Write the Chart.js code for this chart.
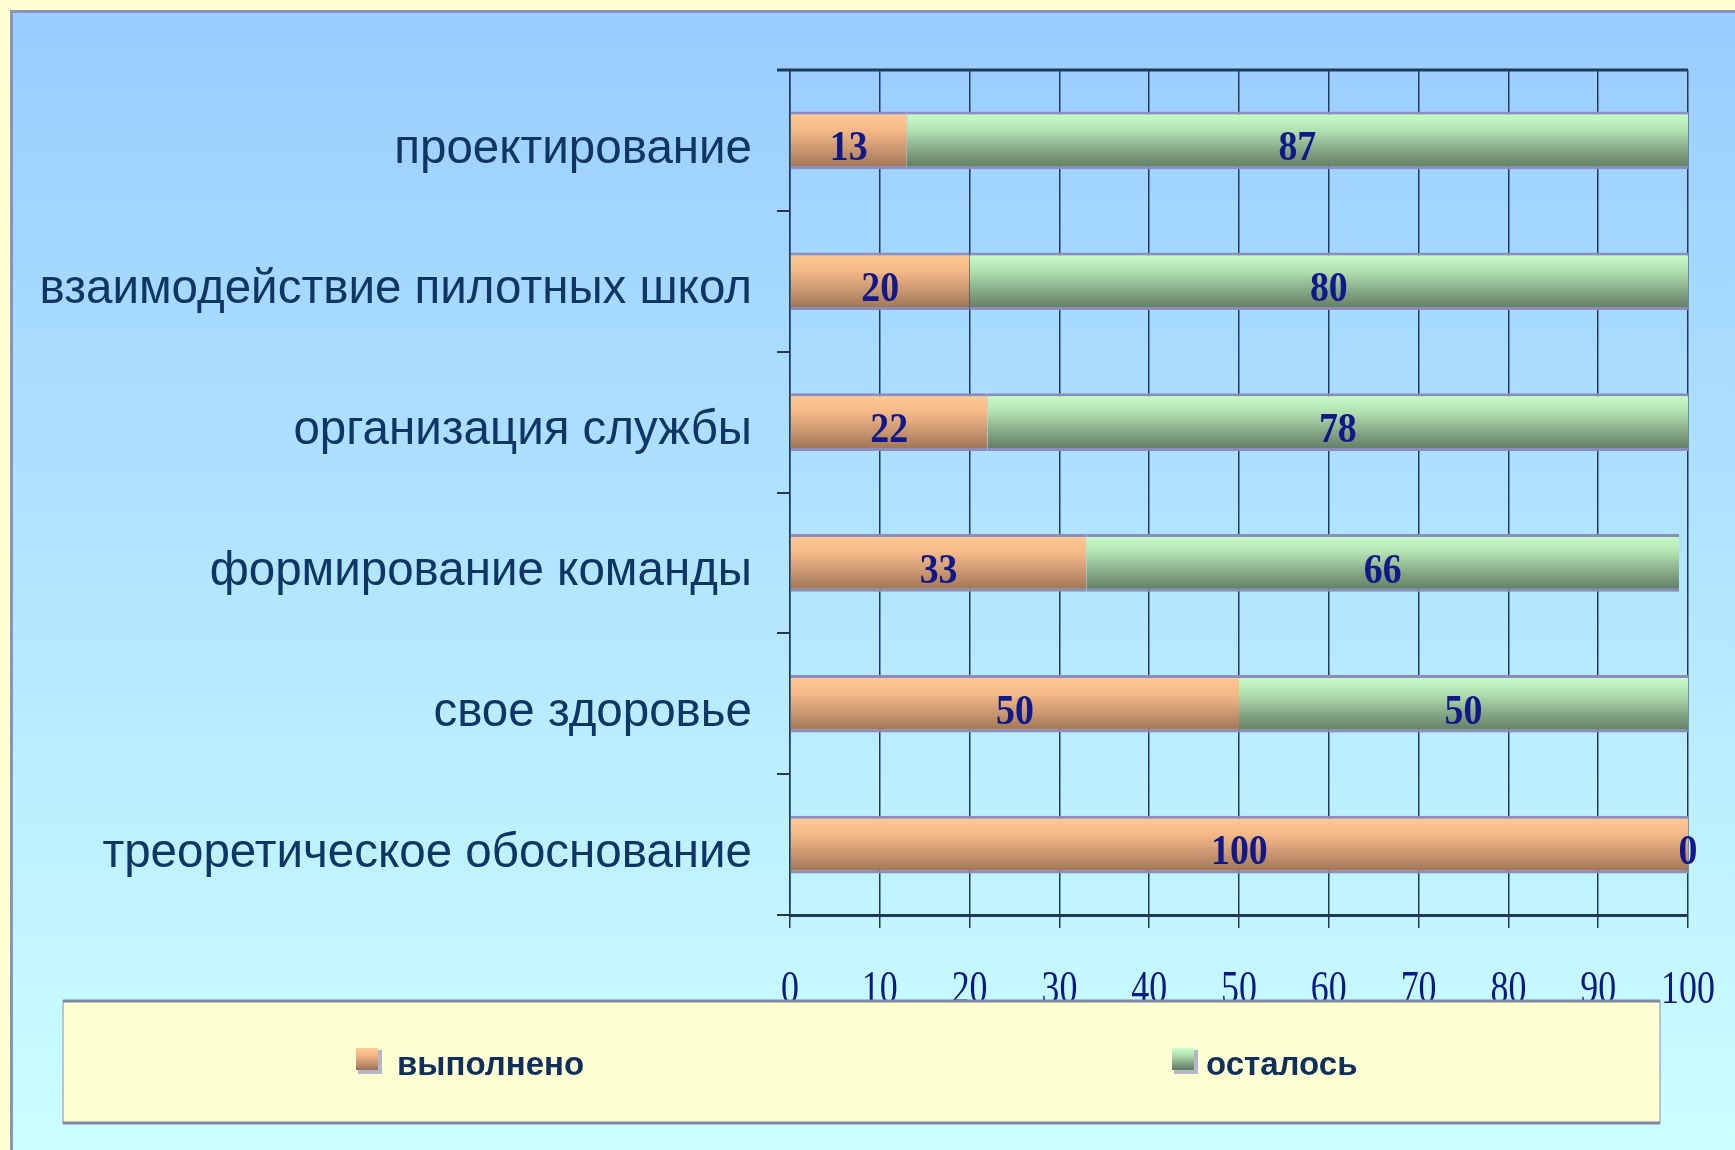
<!DOCTYPE html>
<html>
<head>
<meta charset="utf-8">
<script src="https://cdn.jsdelivr.net/npm/chart.js@4/dist/chart.umd.min.js"></script>
<style>
  html, body { margin: 0; padding: 0; background: #ffffd2; }
  canvas { display: block; }
</style>
</head>
<body>
<canvas id="myChart" width="1735" height="1150"></canvas>
<script>
// chart data
const categories = ['проектирование', 'взаимодействие пилотных школ', 'организация службы',
                    'формирование команды', 'свое здоровье', 'треоретическое обоснование'];
const doneValues = [13, 20, 22, 33, 50, 100];
const leftValues = [87, 80, 78, 66, 50, 0];
const seriesNames = ['выполнено', 'осталось'];
const xTicks = [0, 10, 20, 30, 40, 50, 60, 70, 80, 90, 100];

const BAR_PCT = 0.41;
const gridDark = '#1e3a58';

// vertical gradient inside each bar, follows the y scale
function barGradient(stops, fallback) {
    return function(c) {
        const chart = c.chart;
        if (!chart.chartArea || c.dataIndex === undefined) return fallback;
        const y = chart.scales.y;
        const yc = y.getPixelForValue(c.dataIndex);
        const h = Math.abs(y.getPixelForValue(1) - y.getPixelForValue(0)) * BAR_PCT;
        const g = chart.ctx.createLinearGradient(0, yc - h / 2, 0, yc + h / 2);
        stops.forEach((s, i) => g.addColorStop(i / (stops.length - 1), s));
        return g;
    };
}
const orangeStops = ['#ffcc96', '#f4b886', '#c99670', '#9a7152'];
const greenStops = ['#ccffcc', '#b0e0b0', '#86a886', '#5d7a60'];

const bgPlugin = {
    id: 'bg',
    beforeDraw(chart) {
        const c = chart.ctx;
        const W = chart.width, H = chart.height;
        c.save();
        c.fillStyle = '#ffffd2';
        c.fillRect(0, 0, W, H);
        const g = c.createLinearGradient(0, 10, 0, H);
        g.addColorStop(0, '#99ccff');
        g.addColorStop(1, '#ccffff');
        c.fillStyle = g;
        c.fillRect(10, 10, W - 10, H - 10);
        c.strokeStyle = '#8a93b8';
        c.lineWidth = 3;
        c.beginPath();
        c.moveTo(11.5, H); c.lineTo(11.5, 11.5); c.lineTo(W, 11.5);
        c.stroke();
        c.restore();
    },
    afterDraw(chart) {
        const c = chart.ctx;
        const area = chart.chartArea;
        const xs = chart.scales.x;
        c.save();
        // heavy top line of the plot
        c.strokeStyle = gridDark;
        c.lineWidth = 3;
        c.beginPath();
        c.moveTo(area.left - 13, area.top);
        c.lineTo(area.right, area.top);
        c.stroke();

        // value labels in bars
        c.font = 'bold 42px "Liberation Serif", serif';
        c.fillStyle = '#10188a';
        c.textAlign = 'center';
        c.textBaseline = 'middle';
        chart.data.datasets.forEach((ds, di) => {
            chart.getDatasetMeta(di).data.forEach((el, i) => {
                const p = el.getCenterPoint();
                c.save();
                c.translate(p.x, p.y + 9);
                c.scale(0.9, 1);
                c.fillText(String(ds.data[i]), 0, 0);
                c.restore();
            });
        });

        // x tick labels, narrow serif
        c.font = '46px "Liberation Serif", serif';
        c.fillStyle = '#0a1a80';
        xs.ticks.forEach(t => {
            const px = xs.getPixelForValue(t.value);
            c.save();
            c.translate(px, 991);
            c.scale(0.78, 1);
            c.fillText(String(t.value), 0, 0);
            c.restore();
        });

        // legend box
        const lx = 63, ly = 1001, lw = 1597, lh = 122;
        c.fillStyle = '#ffffd4';
        c.fillRect(lx, ly, lw, lh);
        c.strokeStyle = '#aab0c8';
        c.lineWidth = 1.5;
        c.strokeRect(lx, ly, lw, lh);
        c.strokeStyle = '#8088a8';
        c.lineWidth = 3;
        c.beginPath();
        c.moveTo(lx, ly); c.lineTo(lx + lw, ly);
        c.moveTo(lx, ly + lh); c.lineTo(lx + lw, ly + lh);
        c.stroke();

        const items = [{mx: 356, tx: 397, stops: orangeStops}, {mx: 1172, tx: 1206, stops: greenStops}];
        items.forEach((it, i) => {
            c.fillStyle = '#b4b6c8';
            c.fillRect(it.mx + 2, 1050, 24, 24);
            const g = c.createLinearGradient(0, 1048, 0, 1070);
            it.stops.forEach((s, k) => g.addColorStop(k / (it.stops.length - 1), s));
            c.fillStyle = g;
            c.fillRect(it.mx, 1048, 22, 22);
            c.font = 'bold 33px "Liberation Sans", Arial, sans-serif';
            c.fillStyle = '#0f2f5c';
            c.textAlign = 'left';
            c.fillText(chart.data.datasets[i].label, it.tx, 1066);
        });
        c.restore();
    }
};

const ctx = document.getElementById('myChart').getContext('2d');
const myChart = new Chart(ctx, {
    type: 'bar',
    plugins: [bgPlugin],
    data: {
        labels: categories,
        datasets: [{
            label: seriesNames[0],
            data: doneValues,
            backgroundColor: barGradient(orangeStops, '#e0a878'),
            borderColor: '#8c8cbe',
            borderWidth: {top: 3, bottom: 3, left: 0, right: 0},
            borderSkipped: false
        }, {
            label: seriesNames[1],
            data: leftValues,
            backgroundColor: barGradient(greenStops, '#9cc49c'),
            borderColor: '#8c8cbe',
            borderWidth: {top: 3, bottom: 3, left: 0, right: 0},
            borderSkipped: false
        }]
    },
    options: {
        indexAxis: 'y',
        responsive: false,
        animation: false,
        devicePixelRatio: 1,
        categoryPercentage: 1,
        barPercentage: BAR_PCT,
        layout: { padding: { top: 70, right: 47, left: 0, bottom: 0 } },
        plugins: {
            legend: { display: false },
            tooltip: { enabled: false }
        },
        scales: {
            x: {
                stacked: true,
                min: 0,
                max: 100,
                afterBuildTicks(scale) {
                    scale.ticks = xTicks.map(v => ({ value: v }));
                },
                ticks: { display: false },
                grid: { color: gridDark, lineWidth: 1.5, tickLength: 13, tickColor: gridDark },
                border: { color: gridDark, width: 3 },
                afterFit(scale) { scale.height = 235; }
            },
            y: {
                stacked: true,
                ticks: {
                    color: '#0f3564',
                    font: { family: '"Liberation Sans", Arial, sans-serif', size: 47.5 },
                    padding: 25,
                    labelOffset: 9
                },
                grid: { offset: true, drawOnChartArea: false, tickLength: 13, tickColor: gridDark, lineWidth: 2 },
                border: { color: gridDark, width: 1.5 },
                afterFit(scale) { scale.width = 790; }
            }
        }
    }
});
</script>
</body>
</html>
